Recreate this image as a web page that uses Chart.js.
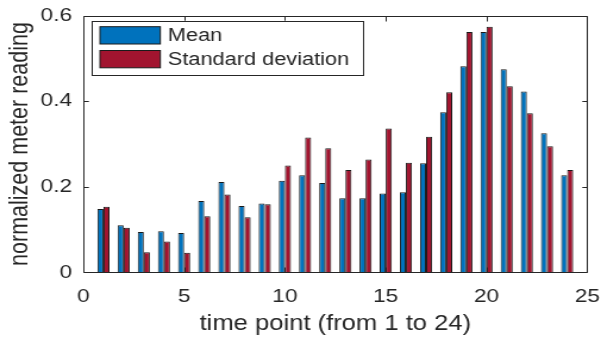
<!DOCTYPE html>
<html>
<head>
<meta charset="utf-8">
<script src="https://cdn.jsdelivr.net/npm/chart.js@4/dist/chart.umd.min.js"></script>
<style>
  html, body { margin: 0; padding: 0; background: #ffffff; overflow: hidden; }
  #c { display: block; width: 601px !important; height: 338px !important; }
</style>
</head>
<body>
<canvas id="c" width="505" height="338" style="width:601px;height:338px"></canvas>
<script>
// ---- data ----
const timePoints = [1,2,3,4,5,6,7,8,9,10,11,12,13,14,15,16,17,18,19,20,21,22,23,24];
const meanValues = [0.148,0.110,0.094,0.096,0.092,0.167,0.211,0.155,0.161,0.214,0.227,0.209,
                    0.173,0.173,0.184,0.187,0.255,0.374,0.482,0.562,0.475,0.423,0.325,0.227];
const sdValues   = [0.153,0.104,0.047,0.072,0.046,0.131,0.182,0.129,0.159,0.250,0.315,0.290,
                    0.239,0.264,0.336,0.256,0.317,0.421,0.562,0.574,0.435,0.372,0.295,0.239];
const seriesLabels = ['Mean', 'Standard deviation'];
const xTickValues = [0, 5, 10, 15, 20, 25];
const yTickValues = [0, 0.2, 0.4, 0.6];

const FONT = '"Liberation Sans", Arial, Helvetica, sans-serif';
const TEXT = '#262626';
const BLUE = '#0072BD';
const RED = '#A2142F';

const toPoints = (vals) => vals.map((v, i) => ({ x: timePoints[i], y: v }));

// box + inward ticks on all four sides (MATLAB style)
const boxPlugin = {
  id: 'boxTicks',
  afterDatasetsDraw(chart) {
    const { ctx, chartArea: a, scales } = chart;
    const L = Math.round(a.left) + 0.5, R = Math.round(a.right) - 0.5;
    const T = Math.round(a.top) + 0.5, B = Math.round(a.bottom) + 0.5;
    ctx.save();
    ctx.strokeStyle = TEXT;
    ctx.lineWidth = 1;
    ctx.beginPath();
    xTickValues.forEach(v => {
      let px = Math.round(scales.x.getPixelForValue(v)) + 0.5;
      px = Math.min(Math.max(px, L), R);
      ctx.moveTo(px, B); ctx.lineTo(px, B - 5);
      ctx.moveTo(px, T); ctx.lineTo(px, T + 5);
    });
    yTickValues.forEach(v => {
      let py = Math.round(scales.y.getPixelForValue(v)) + 0.5;
      py = Math.min(Math.max(py, T), B);
      ctx.moveTo(L, py); ctx.lineTo(L + 4.2, py);
      ctx.moveTo(R, py); ctx.lineTo(R - 4.2, py);
    });
    // frame
    ctx.moveTo(L, T); ctx.lineTo(R, T);
    ctx.moveTo(R, T); ctx.lineTo(R, B);
    ctx.moveTo(R, B); ctx.lineTo(L, B);
    ctx.moveTo(L, B); ctx.lineTo(L, T);
    ctx.stroke();
    ctx.restore();
  }
};

// legend drawn inside the plot, top-left, from dataset labels/colours
const legendPlugin = {
  id: 'insideLegend',
  afterDraw(chart) {
    const { ctx, chartArea: a } = chart;
    const ds = chart.data.datasets;
    const bx = a.left + 7, by = a.top + 5, bw = 227.7, bh = 54;
    ctx.save();
    ctx.fillStyle = '#ffffff';
    ctx.fillRect(bx, by, bw, bh);
    ctx.strokeStyle = '#262626';
    ctx.lineWidth = 1;
    ctx.strokeRect(Math.round(bx) + 0.5, Math.round(by) + 0.5, Math.round(bw), Math.round(bh));
    ctx.font = '18.3px ' + FONT;
    ctx.textBaseline = 'middle';
    ds.forEach((d, i) => {
      const sy = by + 6 + i * 23.8;
      ctx.fillStyle = d.backgroundColor;
      ctx.fillRect(bx + 7, sy, 50.7, 17.3);
      ctx.strokeStyle = '#1a1a1a';
      ctx.strokeRect(bx + 7, sy, 50.7, 17.3);
      ctx.fillStyle = TEXT;
      ctx.fillText(d.label, bx + 64, sy + 9);
    });
    ctx.restore();
  }
};

new Chart(document.getElementById('c'), {
  type: 'bar',
  data: {
    datasets: [
      { label: seriesLabels[0], data: toPoints(meanValues), backgroundColor: BLUE,
        borderColor: '#1a1a1a', borderWidth: 1, borderSkipped: 'bottom' },
      { label: seriesLabels[1], data: toPoints(sdValues), backgroundColor: RED,
        borderColor: '#1a1a1a', borderWidth: 1, borderSkipped: 'bottom' }
    ]
  },
  options: {
    responsive: false,
    animation: false,
    devicePixelRatio: 1,
    layout: { padding: { top: 15.7, right: 11.5, left: 0, bottom: 0 } },
    datasets: { bar: { categoryPercentage: 0.6, barPercentage: 1.0 } },
    plugins: { legend: { display: false }, tooltip: { enabled: false } },
    scales: {
      x: {
        type: 'linear', min: 0, max: 25, offset: false,
        afterBuildTicks: (s) => { s.ticks = xTickValues.map(v => ({ value: v })); },
        afterFit: (s) => { s.height = 65.7; s.paddingLeft = 0; s.paddingRight = 0; },
        grid: { display: false, drawTicks: false },
        border: { display: false },
        ticks: { color: TEXT, font: { family: FONT, size: 19 }, padding: 13, maxRotation: 0 },
        title: { display: true, text: 'time point (from 1 to 24)', color: TEXT,
                 font: { family: FONT, size: 21.5 }, padding: { top: 0, bottom: 1 } }
      },
      y: {
        min: 0, max: 0.6,
        afterBuildTicks: (s) => { s.ticks = yTickValues.map(v => ({ value: v })); },
        afterFit: (s) => { s.width = 70; s.paddingTop = 0; s.paddingBottom = 0; },
        grid: { display: false, drawTicks: false },
        border: { display: false },
        ticks: { color: TEXT, font: { family: FONT, size: 19 }, padding: 9.5 },
        title: { display: true, text: 'normalized meter reading', color: TEXT,
                 font: { family: FONT, size: 21.5 }, padding: { top: 4, bottom: 0 } }
      }
    }
  },
  plugins: [boxPlugin, legendPlugin]
});
</script>
</body>
</html>
